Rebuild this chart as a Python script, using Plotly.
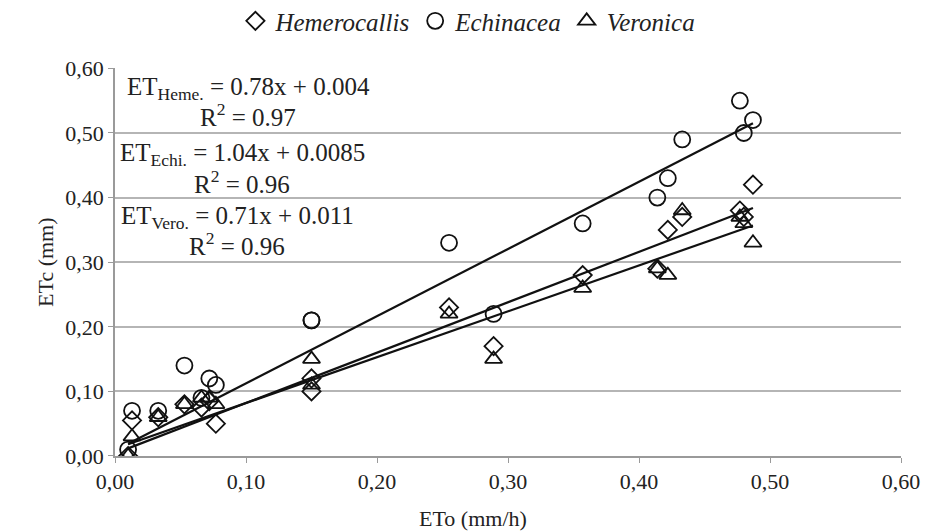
import plotly.graph_objects as go

# ETo (mm/h) values, shared by the three species
eto = [0.010, 0.013, 0.033, 0.053, 0.066, 0.072, 0.077, 0.150, 0.150, 0.255,
       0.289, 0.357, 0.414, 0.422, 0.433, 0.477, 0.480, 0.487]

etc_heme = [0.00, 0.055, 0.06, 0.08, 0.075, 0.085, 0.05, 0.10, 0.12, 0.23,
            0.17, 0.28, 0.29, 0.35, 0.37, 0.38, 0.37, 0.42]
etc_echi = [0.01, 0.07, 0.07, 0.14, 0.09, 0.12, 0.11, 0.21, 0.21, 0.33,
            0.22, 0.36, 0.40, 0.43, 0.49, 0.55, 0.50, 0.52]
etc_vero = [0.00, 0.03, 0.06, 0.08, 0.09, 0.09, 0.08, 0.15, 0.11, 0.22,
            0.15, 0.26, 0.29, 0.28, 0.38, 0.37, 0.36, 0.33]

species = ["Hemerocallis", "Echinacea", "Veronica"]
short = ["Heme.", "Echi.", "Vero."]
slopes = [0.78, 1.04, 0.71]
intercepts = [0.004, 0.0085, 0.011]
slope_txt = ["0.78", "1.04", "0.71"]
icpt_txt = ["0.004", "0.0085", "0.011"]
r2_txt = ["0.97", "0.96", "0.96"]
symbols = ["diamond-open", "circle-open", "triangle-up-open"]
sizes = [14, 16, 15]
series = [etc_heme, etc_echi, etc_vero]

x_ticks = [0.0, 0.1, 0.2, 0.3, 0.4, 0.5, 0.6]
y_ticks = [0.0, 0.1, 0.2, 0.3, 0.4, 0.5, 0.6]

FONT = "Liberation Serif"
fig = go.Figure()

for name, ys, sym, sz in zip(species, series, symbols, sizes):
    fig.add_trace(go.Scatter(
        x=eto, y=ys, mode="markers", name=f"<i>{name}</i>",
        marker=dict(symbol=sym, size=sz, color="#111111",
                    line=dict(color="#111111", width=1.8)),
    ))

xmin, xmax = min(eto), max(eto)
for a, b in zip(slopes, intercepts):
    fig.add_trace(go.Scatter(
        x=[xmin, xmax], y=[a * xmin + b, a * xmax + b], mode="lines",
        line=dict(color="#111111", width=2.2), showlegend=False,
        hoverinfo="skip"))

# equation annotations (paper coords): centre x, equation y, R² y
eq_pos = [(0.1694, 0.948, 0.879),
          (0.1618, 0.779, 0.708),
          (0.1555, 0.615, 0.546)]
for (cx, ey, ry), sh, s, ic, r2 in zip(eq_pos, short, slope_txt, icpt_txt, r2_txt):
    fig.add_annotation(xref="paper", yref="paper", x=cx, y=ey, xanchor="center",
                       yanchor="middle", showarrow=False, borderpad=0,
                       text=f"ET<sub>{sh}</sub> = {s}x + {ic}",
                       font=dict(family=FONT, size=25, color="#222222"))
    fig.add_annotation(xref="paper", yref="paper", x=cx, y=ry, xanchor="center",
                       yanchor="middle", showarrow=False, borderpad=0,
                       text=f"R<sup>2</sup> = {r2}",
                       font=dict(family=FONT, size=25, color="#222222"))

# x-axis title (centred on the chart, as in the original)
fig.add_annotation(xref="paper", yref="paper", x=0.456, y=-0.162,
                   xanchor="center", yanchor="middle", showarrow=False,
                   text="ETo (mm/h)", font=dict(family=FONT, size=22, color="#222222"))

fig.update_layout(
    width=924, height=524,
    margin=dict(l=107, r=26, t=58, b=76),
    paper_bgcolor="white", plot_bgcolor="white",
    separators=", ",
    font=dict(family=FONT, size=22, color="#222222"),
    legend=dict(orientation="h", x=0.449, xanchor="center", y=0.975,
                yanchor="middle", yref="container",
                font=dict(family=FONT, size=25),
                itemwidth=30, tracegroupgap=0),
    xaxis=dict(range=[0, 0.6], tickvals=x_ticks, tickformat=".2f",
               showgrid=False, zeroline=False, showline=True,
               linecolor="#9a9a9a", linewidth=1.5, ticks="outside",
               ticklen=5, tickcolor="#9a9a9a",
               tickfont=dict(family=FONT, size=22)),
    yaxis=dict(range=[0, 0.6], tickvals=y_ticks, tickformat=".2f",
               showgrid=True, gridcolor="#b5b5b5", gridwidth=2,
               zeroline=False, showline=True, linecolor="#9a9a9a",
               linewidth=1.5, ticks="outside", ticklen=5,
               tickcolor="#9a9a9a",
               tickfont=dict(family=FONT, size=22),
               title=dict(text="ETc (mm)", standoff=6,
                          font=dict(family=FONT, size=22))),
)

fig.write_html("out.html")
